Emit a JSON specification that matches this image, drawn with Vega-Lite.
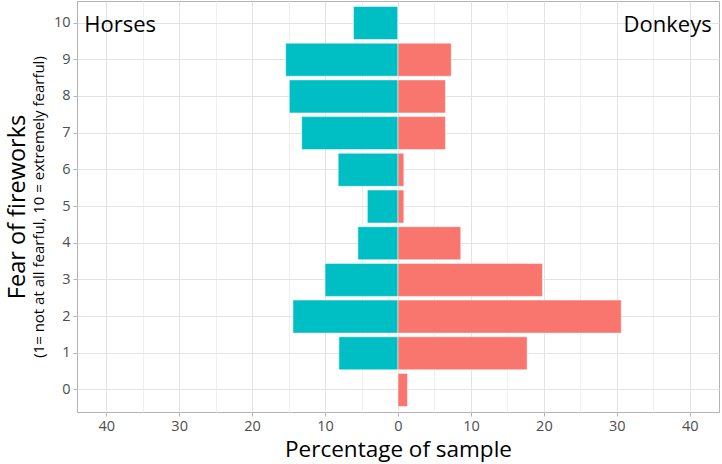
{
  "$schema": "https://vega.github.io/schema/vega-lite/v6.json",
  "width": 642,
  "height": 411,
  "autosize": {"type": "none"},
  "padding": {"left": 77, "top": 1, "right": 3, "bottom": 52},
  "background": "white",
  "config": {
    "font": "Open Sans",
    "view": {"stroke": "#B3B3B3", "strokeWidth": 1}
  },
  "data": {
    "values": [
      {"level": "10", "animal": "Horses", "pct": 6.1},
      {"level": "9", "animal": "Horses", "pct": 15.4},
      {"level": "8", "animal": "Horses", "pct": 14.9},
      {"level": "7", "animal": "Horses", "pct": 13.2},
      {"level": "6", "animal": "Horses", "pct": 8.2},
      {"level": "5", "animal": "Horses", "pct": 4.2},
      {"level": "4", "animal": "Horses", "pct": 5.5},
      {"level": "3", "animal": "Horses", "pct": 10.0},
      {"level": "2", "animal": "Horses", "pct": 14.4},
      {"level": "1", "animal": "Horses", "pct": 8.1},
      {"level": "0", "animal": "Horses", "pct": 0},
      {"level": "10", "animal": "Donkeys", "pct": 0},
      {"level": "9", "animal": "Donkeys", "pct": 7.3},
      {"level": "8", "animal": "Donkeys", "pct": 6.5},
      {"level": "7", "animal": "Donkeys", "pct": 6.5},
      {"level": "6", "animal": "Donkeys", "pct": 0.8},
      {"level": "5", "animal": "Donkeys", "pct": 0.8},
      {"level": "4", "animal": "Donkeys", "pct": 8.6},
      {"level": "3", "animal": "Donkeys", "pct": 19.8},
      {"level": "2", "animal": "Donkeys", "pct": 30.6},
      {"level": "1", "animal": "Donkeys", "pct": 17.7},
      {"level": "0", "animal": "Donkeys", "pct": 1.3}
    ]
  },
  "transform": [
    {"calculate": "datum.animal === 'Horses' ? -datum.pct : datum.pct", "as": "signed"}
  ],
  "resolve": {"axis": {"y": "independent"}},
  "layer": [
    {
      "mark": {"type": "bar", "stroke": "white", "strokeWidth": 0.5},
      "encoding": {
        "y": {
          "field": "level",
          "type": "ordinal",
          "sort": ["10", "9", "8", "7", "6", "5", "4", "3", "2", "1", "0"],
          "scale": {"domain": ["10", "9", "8", "7", "6", "5", "4", "3", "2", "1", "0"], "paddingInner": 0.1, "paddingOuter": 0.15},
          "axis": {
            "title": "(1= not at all fearful, 10 = extremely fearful)",
            "titleFontSize": 15,
            "titleFontWeight": "normal",
            "titleColor": "black",
            "titlePadding": 7,
            "labelFontSize": 14.5,
            "labelColor": "#4D4D4D",
            "labelPadding": 3,
            "tickColor": "#B3B3B3",
            "tickSize": 4,
            "domain": false,
            "grid": true,
            "gridColor": "#E3E3E3",
            "bandPosition": 0.5
          }
        },
        "x": {
          "field": "signed",
          "type": "quantitative",
          "scale": {"domain": [-44, 44], "nice": false, "zero": false},
          "axis": {
            "title": "Percentage of sample",
            "titleFontSize": 22.5,
            "titleFontWeight": "normal",
            "titleColor": "black",
            "titlePadding": 6,
            "values": [-40, -35, -30, -25, -20, -15, -10, -5, 0, 5, 10, 15, 20, 25, 30, 35, 40],
            "labelExpr": "abs(datum.value) % 10 === 0 ? format(abs(datum.value), 'd') : ''",
            "labelFontSize": 14.5,
            "labelColor": "#4D4D4D",
            "labelPadding": 3,
            "tickColor": "#B3B3B3",
            "tickSize": 4,
            "tickOpacity": {"condition": {"test": "abs(datum.value) % 10 !== 0", "value": 0}, "value": 1},
            "domain": false,
            "grid": true,
            "gridColor": {"condition": {"test": "abs(datum.value) % 10 !== 0", "value": "#EFEFEF"}, "value": "#E3E3E3"}
          }
        },
        "color": {
          "field": "animal",
          "type": "nominal",
          "scale": {"domain": ["Donkeys", "Horses"], "range": ["#F8766D", "#00BFC4"]},
          "legend": null
        }
      }
    },
    {
      "data": {"values": [{"label": "Horses"}]},
      "mark": {"type": "text", "fontSize": 22, "color": "black", "baseline": "middle", "align": "left", "dy": 2},
      "encoding": {
        "x": {"datum": -43},
        "y": {
          "datum": "10",
          "type": "ordinal",
          "axis": {
            "title": "Fear of fireworks",
            "titleFontSize": 23.5,
            "titleFontWeight": "normal",
            "titleColor": "black",
            "titlePadding": 0,
            "offset": 48,
            "labels": false,
            "ticks": false,
            "domain": false,
            "grid": false,
            "orient": "left"
          }
        },
        "text": {"field": "label"}
      }
    },
    {
      "data": {"values": [{"label": "Donkeys"}]},
      "mark": {"type": "text", "fontSize": 22, "color": "black", "baseline": "middle", "align": "right", "dy": 2},
      "encoding": {
        "x": {"datum": 43},
        "y": {"datum": "10", "type": "ordinal", "axis": null},
        "text": {"field": "label"}
      }
    }
  ]
}
